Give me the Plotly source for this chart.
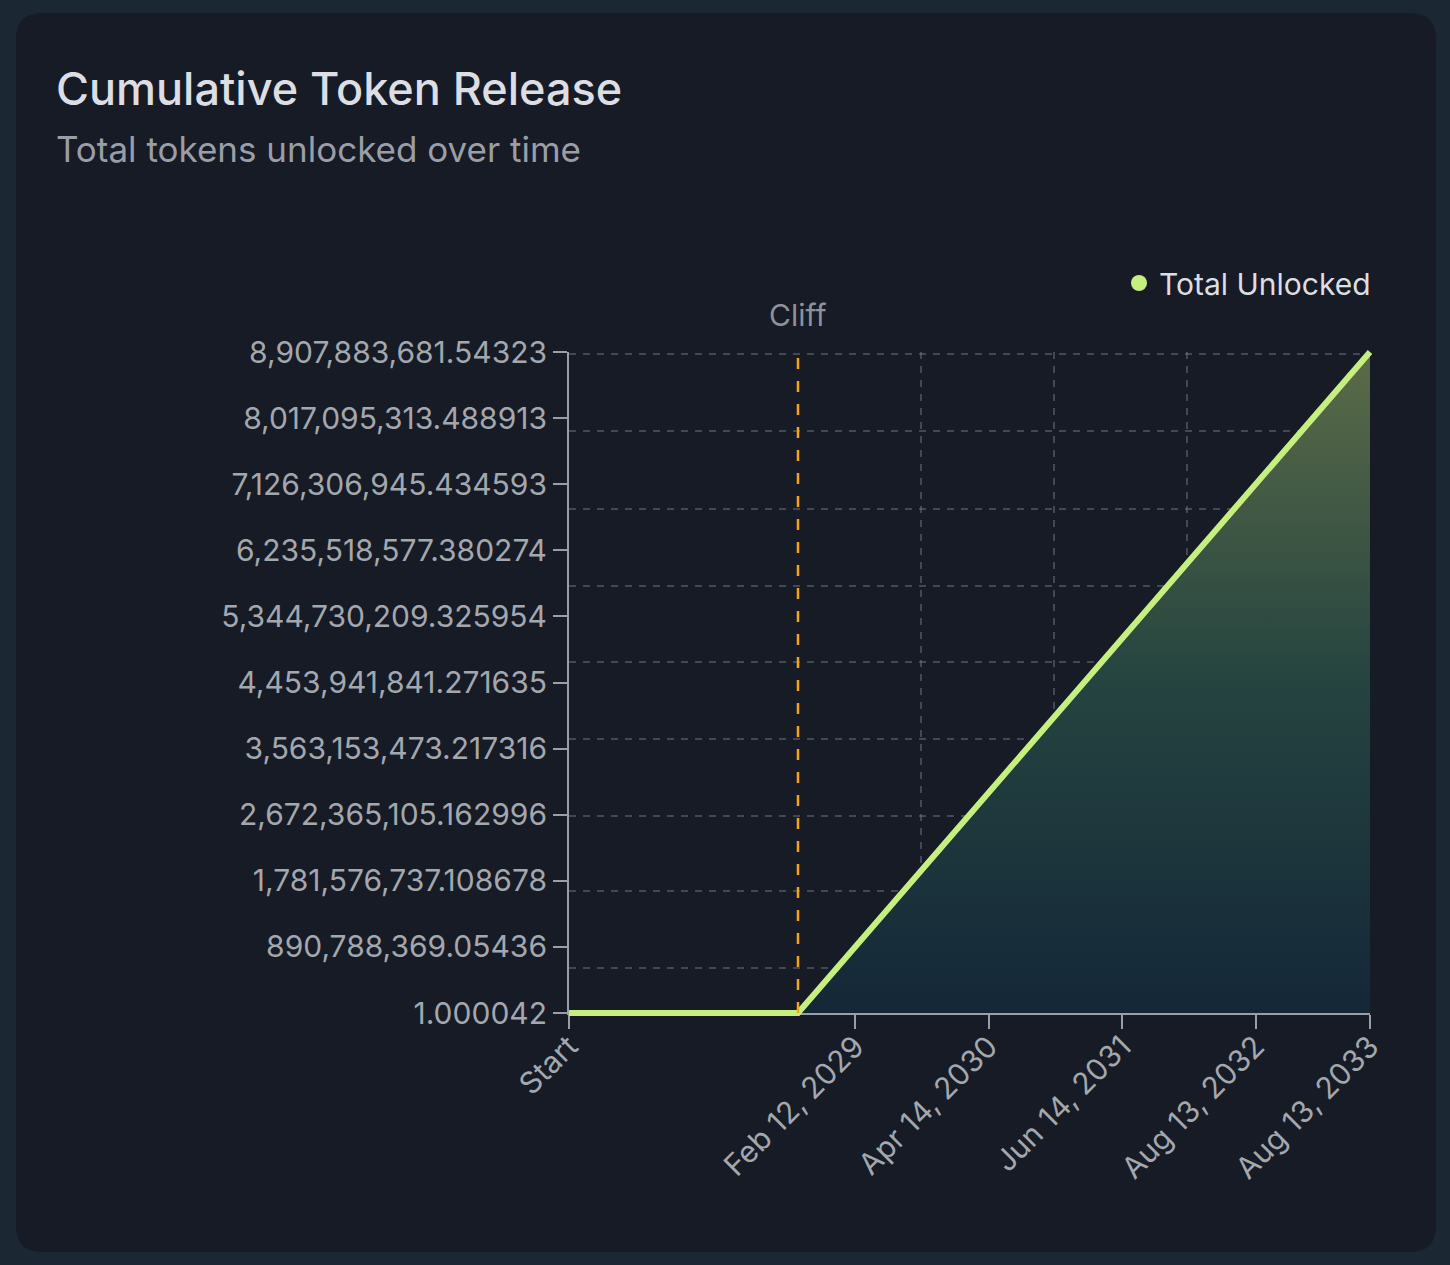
import pandas as pd
import plotly.graph_objects as go

# data
dates = ['2026-08-13', '2028-08-13', '2033-08-13']
total_unlocked = [1.000042, 1.000042, 8907883681.54323]

cliff_date = '2028-08-13'

x_tick_dates = ['2026-08-13', '2029-02-12', '2030-04-14', '2031-06-14', '2032-08-13', '2033-08-13']
x_tick_labels = ['Start', 'Feb 12, 2029', 'Apr 14, 2030', 'Jun 14, 2031', 'Aug 13, 2032', 'Aug 13, 2033']

y_tick_labels = ['1.000042', '890,788,369.05436', '1,781,576,737.108678', '2,672,365,105.162996',
                 '3,563,153,473.217316', '4,453,941,841.271635', '5,344,730,209.325954',
                 '6,235,518,577.380274', '7,126,306,945.434593', '8,017,095,313.488913',
                 '8,907,883,681.54323']
y_tick_values = [float(s.replace(',', '')) for s in y_tick_labels]

# grid lines don't line up with the ticks in the original
x_grid_dates = ['2029-09-13', '2030-11-13', '2032-01-13', '2033-08-13']
y_grid_values = [606e6, 1644e6, 2668e6, 3706e6, 4744e6, 5781e6, 6819e6, 7870e6, 8907.88e6]

W, H = 1450, 1265
PAD = 6  # extra room round the plot so the thick line isn't clipped
L, R, T, B = 569 - PAD, 80 - PAD, 352 - PAD, 252 - PAD
PW, PH = W - L - R, H - T - B
dom_x = [PAD / PW, 1 - PAD / PW]
dom_y = [PAD / PH, 1 - PAD / PH]
inner_w, inner_h = PW - 2 * PAD, PH - 2 * PAD


def px_x(p):
    return (p - L) / PW


def px_y(p):
    return (T + PH - p) / PH


def card_path(x0, y0, x1, y1, r):
    ax0, ax1 = px_x(x0), px_x(x1)
    ay0, ay1 = px_y(y0), px_y(y1)
    rx, ry = r / PW, r / PH
    return (f"M {ax0 + rx} {ay0} L {ax1 - rx} {ay0} Q {ax1} {ay0} {ax1} {ay0 - ry} "
            f"L {ax1} {ay1 + ry} Q {ax1} {ay1} {ax1 - rx} {ay1} "
            f"L {ax0 + rx} {ay1} Q {ax0} {ay1} {ax0} {ay1 + ry} "
            f"L {ax0} {ay0 - ry} Q {ax0} {ay0} {ax0 + rx} {ay0} Z")


x0, x1 = pd.Timestamp(dates[0]), pd.Timestamp(dates[-1])
y0, y1 = y_tick_values[0], y_tick_values[-1]
x_ext = (x1 - x0) * (PAD / inner_w)
y_ext = (y1 - y0) * (PAD / inner_h)
x3_range = [(x0 - x_ext).isoformat(), (x1 + x_ext).isoformat()]
y3_range = [y0 - y_ext, y1 + y_ext]

# grid axes run a hair past the data range so edge grid lines are not dropped
y2_range = [y0, y1 + (y1 - y0) * 2.5 / inner_h]
x2_range = [dates[0], (x1 + (x1 - x0) * (2.5 / inner_w)).isoformat()]

line_color = '#c5f07f'
axis_color = '#9a9ea6'
grid_color = 'rgba(110,118,130,0.5)'
font = 'Inter'

fig = go.Figure()
fig.add_trace(go.Scatter(
    x=dates, y=total_unlocked, mode='lines', line=dict(width=0), fill='tozeroy',
    fillgradient=dict(type='vertical',
                      colorscale=[[0, '#142738'], [0.5, '#254440'], [1, '#5a6b48']]),
    showlegend=False, hoverinfo='skip'))
fig.add_trace(go.Scatter(
    x=dates, y=total_unlocked, mode='lines', name='Total Unlocked',
    line=dict(color=line_color, width=6), showlegend=False, hoverinfo='skip',
    xaxis='x3', yaxis='y3'))
# legend entry with a dot
fig.add_trace(go.Scatter(
    x=[None], y=[None], mode='markers', name='Total Unlocked',
    marker=dict(color=line_color, size=20, symbol='circle'),
    xaxis='x2', yaxis='y2'))

fig.add_shape(type='path', path=card_path(16, 13, 1436, 1252, 26), xref='paper', yref='paper',
              fillcolor='#171b26', line=dict(width=0), layer='below')
fig.add_shape(type='line', x0=cliff_date, x1=cliff_date, y0=0, y1=1, xref='x', yref='y domain',
              line=dict(color='#f5a31a', width=2.5, dash='11px,12px'))

fig.add_annotation(text='Cliff', x=cliff_date, y=1, xref='x', yref='y domain', yanchor='bottom',
                   yshift=17, showarrow=False, font=dict(family=font, size=30, color='#8e929a'))
fig.add_annotation(text='Cumulative Token Release', x=px_x(54), y=px_y(88), xref='paper', yref='paper',
                   xanchor='left', yanchor='middle', showarrow=False,
                   font=dict(family=font, size=45, color='#dcdee3', weight=500))
fig.add_annotation(text='Total tokens unlocked over time', x=px_x(54), y=px_y(149), xref='paper',
                   yref='paper', xanchor='left', yanchor='middle', showarrow=False,
                   font=dict(family=font, size=35, color='#9a9ea6'))

fig.update_layout(
    width=W, height=H,
    margin=dict(l=L, r=R, t=T, b=B, pad=0),
    paper_bgcolor='#1b2834', plot_bgcolor='rgba(0,0,0,0)',
    font=dict(family=font, color='#a3a7ae'),
    showlegend=True,
    legend=dict(x=px_x(1376), y=px_y(283), xanchor='right', yanchor='middle', bgcolor='rgba(0,0,0,0)',
                font=dict(family=font, size=30, color='#dcdee3')),
    xaxis=dict(type='date', domain=dom_x, anchor='y', range=[dates[0], dates[-1]],
               tickvals=x_tick_dates, ticktext=x_tick_labels,
               tickangle=-45, ticks='outside', ticklen=14, tickwidth=2, tickcolor=axis_color,
               ticklabelstandoff=-12,
               showline=True, linecolor=axis_color, linewidth=2, showgrid=False, zeroline=False,
               tickfont=dict(family=font, size=30, color='#a3a7ae'), layer='below traces'),
    yaxis=dict(domain=dom_y, anchor='x', range=[y0, y1], tickvals=y_tick_values, ticktext=y_tick_labels,
               ticks='outside', ticklen=14, tickwidth=2, tickcolor=axis_color, showline=True,
               linecolor=axis_color, linewidth=2, showgrid=False, zeroline=False,
               tickfont=dict(family=font, size=30, color='#a3a7ae'), layer='below traces'),
    xaxis2=dict(type='date', domain=dom_x, range=x2_range, overlaying='x', anchor='y2',
                tickvals=x_grid_dates, showticklabels=False, ticks='', showline=False,
                showgrid=True, gridcolor=grid_color, griddash='7px,7px', gridwidth=1.5, zeroline=False),
    yaxis2=dict(domain=dom_y, range=y2_range, overlaying='y', anchor='x2',
                tickvals=y_grid_values, showticklabels=False, ticks='', showline=False,
                showgrid=True, gridcolor=grid_color, griddash='7px,7px', gridwidth=1.5, zeroline=False),
    xaxis3=dict(type='date', domain=[0, 1], anchor='y3', range=x3_range, visible=False),
    yaxis3=dict(domain=[0, 1], anchor='x3', range=y3_range, visible=False),
)

fig.write_html('out.html', config={'displayModeBar': False},
               post_script="document.body.style.margin='0';document.body.style.background='#1b2834';")
